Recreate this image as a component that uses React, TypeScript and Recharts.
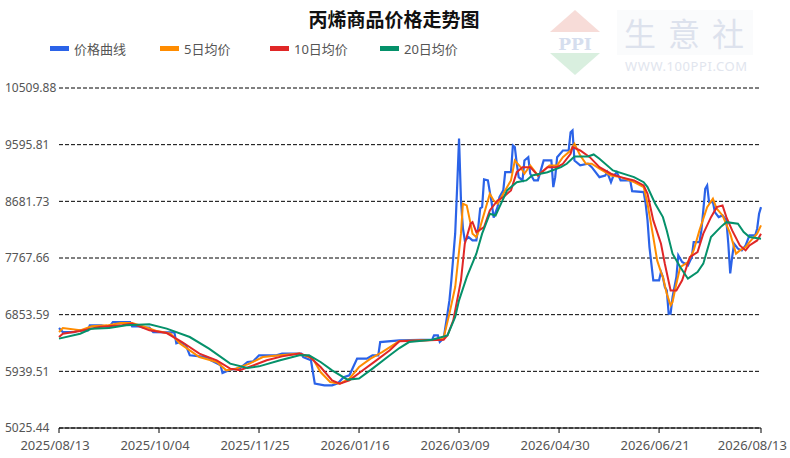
import { CartesianGrid, Line, LineChart, XAxis, YAxis } from 'recharts';

const dateLabels = ['2025/08/13', '2025/10/04', '2025/11/25', '2026/01/16', '2026/03/09', '2026/04/30', '2026/06/21', '2026/08/13'];
const tickDays = [0, 52, 104, 156, 208, 260, 312, 365];
const yTicks = [5025.44, 5939.51, 6853.59, 7767.66, 8681.73, 9595.81, 10509.88];

// 价格曲线 (days since 2025/08/13)
const priceDays = [0, 2, 8, 10, 15, 16, 22, 26, 28, 37, 38, 42, 44, 47, 49, 60, 61, 63, 66, 68, 77, 79, 82, 84, 85, 89, 94, 98, 101, 104, 113, 116, 126, 127, 131, 133, 138, 142, 145, 148, 151, 155, 160, 163, 166, 167, 177, 194, 195, 197, 198, 200, 202, 203, 204, 206, 207, 208, 209, 210, 211, 213, 215, 217, 218, 219, 220, 221, 223, 225, 226, 228, 229, 231, 232, 235, 236, 237, 238, 239, 241, 242, 244, 245, 247, 249, 251, 252, 256, 257, 258, 259, 262, 265, 266, 267, 268, 271, 275, 277, 281, 284, 285, 287, 288, 290, 292, 297, 298, 304, 305, 306, 307, 309, 312, 313, 314, 315, 316, 317, 318, 319, 321, 322, 324, 327, 329, 330, 333, 334, 335, 336, 337, 338, 340, 341, 343, 345, 347, 348, 349, 350, 351, 353, 355, 357, 359, 362, 363, 364, 365];
const priceValues = [6638, 6573, 6573, 6601, 6601, 6681, 6681, 6649, 6734, 6734, 6665, 6665, 6644, 6644, 6573, 6568, 6391, 6412, 6359, 6198, 6170, 6117, 6069, 6036, 5912, 5967, 5988, 6090, 6101, 6198, 6198, 6225, 6225, 6170, 6117, 5741, 5714, 5714, 5746, 5843, 5875, 6144, 6144, 6198, 6198, 6412, 6439, 6451, 6520, 6520, 6412, 6472, 6875, 7084, 7407, 8164, 8900, 9696, 8700, 8250, 8052, 8105, 8052, 8052, 8266, 8567, 8588, 9035, 9019, 8650, 8420, 8588, 8750, 8858, 9153, 9153, 9583, 9556, 9293, 9072, 9019, 9341, 9394, 9127, 9019, 9019, 9233, 9341, 9341, 8911, 9072, 9394, 9502, 9502, 9797, 9825, 9341, 9261, 9288, 9233, 9072, 9099, 9153, 8991, 9072, 9153, 9019, 9019, 8846, 8830, 8648, 8374, 7944, 7407, 7407, 7541, 7460, 7299, 7245, 6870, 6870, 7137, 7460, 7810, 7702, 7648, 7782, 8024, 8024, 8213, 8535, 8885, 8938, 8669, 8669, 8508, 8427, 8455, 8374, 7998, 7520, 7782, 7998, 7918, 7890, 7971, 8132, 8132, 8240, 8482, 8588];

// 5日均价
const ma5Days = [0, 2, 11, 17, 25, 32, 38, 44, 51, 58, 63, 68, 73, 82, 87, 92, 99, 106, 115, 125, 132, 136, 141, 146, 151, 156, 162, 168, 177, 198, 200, 203, 206, 209, 210, 212, 214, 215, 217, 219, 223, 224, 226, 228, 231, 235, 237, 240, 242, 245, 249, 252, 255, 259, 262, 266, 268, 271, 274, 277, 281, 287, 292, 299, 304, 306, 309, 311, 313, 314, 316, 318, 319, 321, 323, 327, 330, 333, 337, 340, 342, 345, 349, 352, 354, 357, 359, 363, 365];
const ma5Values = [6573, 6638, 6601, 6665, 6681, 6718, 6718, 6665, 6589, 6547, 6386, 6278, 6170, 6090, 5956, 5983, 6064, 6170, 6198, 6225, 6144, 5928, 5767, 5741, 5822, 6009, 6144, 6251, 6428, 6450, 6483, 6870, 7299, 8160, 8643, 8616, 8321, 8160, 8105, 8266, 8696, 8804, 8696, 8643, 8804, 9019, 9341, 9233, 9127, 9261, 9099, 9180, 9261, 9261, 9394, 9502, 9610, 9422, 9288, 9288, 9207, 9099, 9072, 8991, 8911, 8643, 8105, 7729, 7540, 7460, 7192, 7004, 7057, 7353, 7621, 7702, 7890, 8213, 8588, 8724, 8562, 8454, 8160, 7837, 7890, 7943, 8024, 8160, 8293];

// 10日均价
const ma10Days = [0, 2, 11, 21, 32, 38, 47, 56, 64, 73, 82, 89, 94, 101, 108, 116, 125, 130, 136, 142, 146, 151, 158, 165, 172, 177, 200, 202, 205, 209, 211, 214, 215, 217, 221, 224, 228, 231, 235, 238, 241, 245, 249, 254, 259, 262, 266, 267, 271, 276, 281, 287, 292, 299, 304, 306, 309, 313, 315, 318, 321, 324, 328, 332, 335, 339, 342, 345, 347, 350, 354, 357, 359, 363, 365];
const ma10Values = [6493, 6547, 6589, 6654, 6681, 6709, 6601, 6557, 6412, 6225, 6117, 5983, 5956, 6036, 6117, 6181, 6225, 6181, 6009, 5794, 5741, 5794, 5956, 6117, 6278, 6423, 6450, 6520, 6762, 7407, 7998, 8321, 8346, 8185, 8266, 8535, 8696, 8750, 8858, 9152, 9233, 9233, 9099, 9233, 9233, 9288, 9449, 9556, 9502, 9394, 9233, 9127, 9072, 9019, 8938, 8804, 8374, 7998, 7676, 7245, 7245, 7407, 7782, 7863, 8160, 8427, 8588, 8616, 8427, 8213, 7971, 7890, 7971, 8051, 8160];

// 20日均价
const ma20Days = [0, 11, 17, 26, 35, 47, 56, 68, 78, 89, 98, 104, 115, 125, 130, 136, 142, 150, 156, 163, 172, 177, 182, 194, 202, 206, 208, 212, 217, 220, 224, 227, 229, 233, 238, 243, 246, 254, 261, 264, 268, 275, 278, 281, 288, 299, 304, 306, 310, 314, 316, 319, 323, 327, 332, 335, 339, 344, 347, 353, 356, 359, 365];
const ma20Values = [6467, 6547, 6628, 6638, 6681, 6697, 6628, 6493, 6306, 6064, 5993, 6020, 6117, 6198, 6198, 6090, 5956, 5806, 5822, 5983, 6198, 6315, 6412, 6450, 6520, 6815, 7084, 7460, 7837, 8160, 8482, 8454, 8588, 8858, 8991, 9019, 9099, 9152, 9233, 9288, 9406, 9406, 9438, 9368, 9180, 9072, 8991, 8911, 8643, 8427, 8213, 7837, 7621, 7434, 7540, 7676, 8105, 8266, 8346, 8321, 8185, 8105, 8079];

const toPoints = (days: number[], values: number[]) =>
  days.map((day, i) => ({ day, value: values[i] }));

const priceData = toPoints(priceDays, priceValues);
const ma5Data = toPoints(ma5Days, ma5Values);
const ma10Data = toPoints(ma10Days, ma10Values);
const ma20Data = toPoints(ma20Days, ma20Values);

const FONT = "'Noto Sans', 'Noto Sans CJK SC', sans-serif";

const legendItems = [
  { name: '价格曲线', color: '#2b63e8', x: 50 },
  { name: '5日均价', color: '#ff8c00', x: 160 },
  { name: '10日均价', color: '#e02727', x: 270 },
  { name: '20日均价', color: '#05916a', x: 380 },
];

const XTick = (props: any) => {
  const { x, y, payload } = props;
  const idx = tickDays.indexOf(payload.value);
  const last = idx === tickDays.length - 1;
  return (
    <text
      x={last ? x + 26 : x - 4}
      y={y}
      dy="0.71em"
      textAnchor={last ? 'end' : 'middle'}
      fill="#555"
      fontSize={13}
      fontFamily={FONT}
    >
      {dateLabels[idx]}
    </text>
  );
};

const YTick = (props: any) => {
  const { y, payload } = props;
  return (
    <text x={5} y={y} dy="0.36em" textAnchor="start" fill="#555" fontSize={12} fontFamily={FONT}>
      {Number(payload.value).toFixed(2)}
    </text>
  );
};

const Header = () => (
  <svg width={790} height={90} style={{ position: 'absolute', left: 0, top: 0 }}>
    {/* watermark */}
    <polygon points="575,10 600,32 550,32" fill="#f7dcd8" />
    <text x={575} y={50} textAnchor="middle" fontSize={17} fontWeight="bold" fontFamily="'DejaVu Serif', serif" fill="#d6deee">
      PPI
    </text>
    <polygon points="550,53 600,53 575,75" fill="#d9efdf" />
    <rect x={617} y={10} width={136} height={45} fill="#fafbfc" />
    <text x={624} y={46} fontSize={32} fontFamily="'Noto Sans CJK SC', sans-serif" fill="#dde2ed" letterSpacing={12}>
      生意社
    </text>
    <text x={625} y={71} fontSize={13} fontFamily={FONT} fill="#e1e5ee" letterSpacing={0.6}>
      WWW.100PPI.COM
    </text>
    {/* title */}
    <text x={394} y={27} textAnchor="middle" fontSize={19} fontWeight="bold" fontFamily="'Noto Sans CJK SC', sans-serif" fill="#111">
      丙烯商品价格走势图
    </text>
    {/* legend */}
    {legendItems.map((item) => (
      <g key={item.name}>
        <rect x={item.x} y={46} width={19} height={5} fill={item.color} />
        <text x={item.x + 24} y={49} dy="0.36em" fontSize={13} fontFamily={FONT} fill="#555">
          {item.name}
        </text>
      </g>
    ))}
  </svg>
);

export default function App() {
  return (
    <div style={{ position: 'absolute', left: 0, top: 0, width: 790, height: 458, background: '#fff' }}>
      <LineChart width={790} height={458} margin={{ top: 88, right: 29, bottom: 0, left: 0 }}>
        <CartesianGrid vertical={false} stroke="#000" strokeDasharray="4 2" />
        <XAxis
          type="number"
          dataKey="day"
          domain={[0, 365]}
          ticks={tickDays}
          interval={0}
          height={30}
          tickSize={5}
          tickMargin={8}
          axisLine={{ stroke: '#000' }}
          tickLine={{ stroke: '#000' }}
          tick={<XTick />}
        />
        <YAxis
          type="number"
          domain={[5025.44, 10509.88]}
          ticks={yTicks}
          interval={0}
          width={59}
          axisLine={false}
          tickLine={false}
          allowDataOverflow
          tick={<YTick />}
        />
        <Line data={priceData} dataKey="value" type="linear" stroke="#2b63e8" strokeWidth={2.2} dot={false} isAnimationActive={false} />
        <Line data={ma5Data} dataKey="value" type="linear" stroke="#ff8c00" strokeWidth={2} dot={false} isAnimationActive={false} />
        <Line data={ma10Data} dataKey="value" type="linear" stroke="#e02727" strokeWidth={2} dot={false} isAnimationActive={false} />
        <Line data={ma20Data} dataKey="value" type="linear" stroke="#05916a" strokeWidth={2} dot={false} isAnimationActive={false} />
      </LineChart>
      <Header />
    </div>
  );
}
